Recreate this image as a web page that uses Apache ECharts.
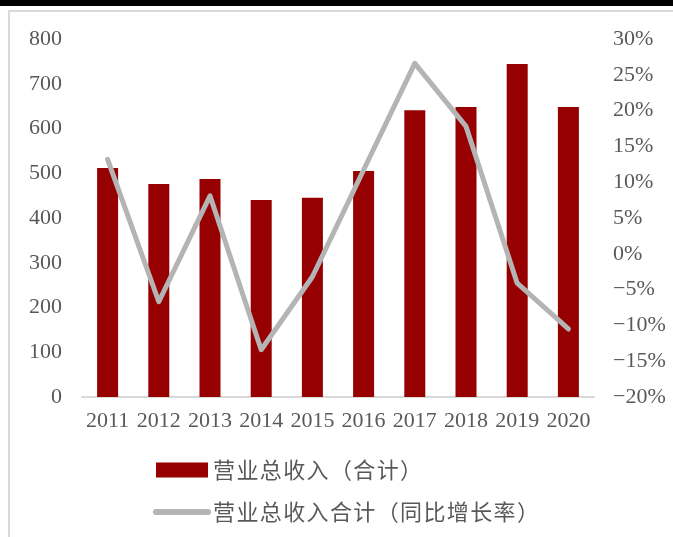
<!DOCTYPE html>
<html>
<head>
<meta charset="utf-8">
<script src="https://cdn.jsdelivr.net/npm/echarts@6/dist/echarts.min.js"></script>
<style>
  html, body { margin: 0; padding: 0; background: #fff; }
  #chart { width: 673px; height: 537px; }
</style>
</head>
<body>
<div id="chart"></div>
<script>
// Years on the category axis
const years = ['2011', '2012', '2013', '2014', '2015', '2016', '2017', '2018', '2019', '2020'];
// 营业总收入（合计）
const revenue = [512, 476, 487, 440, 445, 505, 641, 648, 744, 648];
// 营业总收入合计（同比增长率），单位 %
const growth = [13.2, -6.7, 8.1, -13.4, -3.2, 11.7, 26.6, 17.8, -4.1, -10.5];
// Axis ranges
const leftAxis = { min: 0, max: 800, interval: 100 };
const rightAxis = { min: -20, max: 30, interval: 5 };

const serif = '"Liberation Serif", "Times New Roman", serif';
const cjk = '"Noto Sans CJK SC", sans-serif';
const labelColor = '#595959';
const barColor = '#960000';
const lineColor = '#b4b4b4';

const chart = echarts.init(document.getElementById('chart'));
chart.setOption({
  animation: false,
  backgroundColor: '#fff',
  graphic: [
    { type: 'rect', shape: { x: 0, y: 0, width: 673, height: 6 }, style: { fill: '#000' } },
    { type: 'line', shape: { x1: 9, y1: 10, x2: 9, y2: 537 }, style: { stroke: '#d9d9d9', lineWidth: 2 } },
    { type: 'line', shape: { x1: 9, y1: 11, x2: 673, y2: 11 }, style: { stroke: '#d9d9d9', lineWidth: 2 } }
  ],
  grid: { left: 82, right: 79, top: 39, bottom: 140, containLabel: false },
  legend: {
    orient: 'vertical',
    left: 153,
    top: 459,
    padding: 0,
    itemWidth: 52,
    itemHeight: 15,
    itemGap: 20,
    // slightly widened character spacing for the legend captions
    formatter: name => name.split('').join('\u200A'),
    textStyle: { fontFamily: cjk, fontSize: 22, color: labelColor },
    data: [
      { name: '营业总收入（合计）', icon: 'rect' },
      {
        name: '营业总收入合计（同比增长率）',
        itemStyle: { opacity: 0 },
        lineStyle: { color: lineColor, width: 6, cap: 'round' }
      }
    ]
  },
  xAxis: {
    type: 'category',
    data: years,
    axisLine: { lineStyle: { color: '#d9d9d9', width: 2 } },
    axisTick: { show: false },
    axisLabel: { fontFamily: serif, fontSize: 22, color: labelColor, margin: 13, interval: 0 }
  },
  yAxis: [
    {
      type: 'value',
      min: leftAxis.min, max: leftAxis.max, interval: leftAxis.interval,
      splitLine: { show: false },
      axisLine: { show: false },
      axisTick: { show: false },
      axisLabel: { fontFamily: serif, fontSize: 22, color: labelColor, margin: 20 }
    },
    {
      type: 'value',
      position: 'right',
      min: rightAxis.min, max: rightAxis.max, interval: rightAxis.interval,
      splitLine: { show: false },
      axisLine: { show: false },
      axisTick: { show: false },
      axisLabel: {
        fontFamily: serif, fontSize: 22, color: labelColor, margin: 19,
        formatter: v => String(v).replace('-', '\u2212') + '%'
      }
    }
  ],
  series: [
    {
      name: '营业总收入（合计）',
      type: 'bar',
      data: revenue,
      barWidth: 21,
      itemStyle: { color: barColor }
    },
    {
      name: '营业总收入合计（同比增长率）',
      type: 'line',
      yAxisIndex: 1,
      data: growth,
      symbol: 'none',
      lineStyle: { color: lineColor, width: 5, cap: 'round', join: 'round' },
      itemStyle: { color: lineColor }
    }
  ]
});
</script>
</body>
</html>
